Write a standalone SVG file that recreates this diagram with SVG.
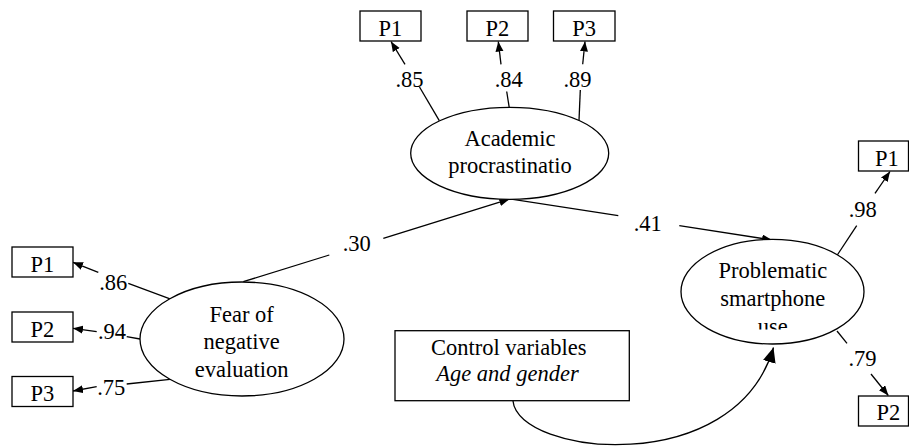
<svg xmlns="http://www.w3.org/2000/svg" width="909" height="448" viewBox="0 0 909 448" font-family="Liberation Serif, DejaVu Serif, serif">
<style>
.n{fill:#fff;stroke:#000;stroke-width:1.3}
.t{font-size:22.5px;fill:#000;text-anchor:middle}
.i{font-style:italic}
.c line,.c path{stroke:#000;stroke-width:1.3;fill:none}
</style>
<defs>
<marker id="a" markerUnits="userSpaceOnUse" markerWidth="11" markerHeight="9" refX="10" refY="4" orient="auto">
<path d="M0,0 L10,4 L0,8 z" fill="#000"/>
</marker>
<marker id="b" markerUnits="userSpaceOnUse" markerWidth="16" markerHeight="14" refX="15" refY="6.5" orient="auto">
<path d="M0,0 L15,6.5 L0,13 z" fill="#000"/>
</marker>
<clipPath id="cl"><rect x="680" y="230" width="190" height="99.5"/></clipPath>
</defs>
<rect width="909" height="448" fill="#fff"/>

<g class="c" id="connectors">
<line x1="243.3" y1="281.7" x2="329.3" y2="255"/>
<line x1="383.3" y1="238.3" x2="509.3" y2="199.2" marker-end="url(#a)"/>
<line x1="507" y1="198.5" x2="618.3" y2="215.7"/>
<line x1="679.3" y1="225.7" x2="772" y2="240" marker-end="url(#a)"/>
<line x1="439.3" y1="120.7" x2="419.5" y2="87"/>
<line x1="405" y1="64.3" x2="391" y2="41.5" marker-end="url(#a)"/>
<line x1="509.3" y1="108" x2="506.7" y2="91.5"/>
<line x1="501" y1="64.3" x2="498.3" y2="41.5" marker-end="url(#a)"/>
<line x1="579" y1="120.7" x2="580.3" y2="90"/>
<line x1="582.7" y1="64.3" x2="585" y2="41.5" marker-end="url(#a)"/>
<line x1="170" y1="298.8" x2="128.3" y2="283.3"/>
<line x1="98.3" y1="272.3" x2="73" y2="262.3" marker-end="url(#a)"/>
<line x1="140" y1="339" x2="126.7" y2="336.7"/>
<line x1="96.7" y1="331.7" x2="73" y2="328.3" marker-end="url(#a)"/>
<line x1="170" y1="379.3" x2="126.7" y2="384"/>
<line x1="96.7" y1="386.7" x2="73" y2="391" marker-end="url(#a)"/>
<line x1="837.3" y1="255" x2="856.7" y2="225.7"/>
<line x1="875" y1="193.3" x2="890" y2="171.5" marker-end="url(#a)"/>
<line x1="837" y1="331" x2="847" y2="343.3"/>
<line x1="871" y1="374" x2="888.3" y2="395.5" marker-end="url(#a)"/>
<path d="M513,401 C518,455 735,480 773.5,347.5" marker-end="url(#b)"/>
<text class="t" x="356.7" y="250.7">.30</text>
<text class="t" x="647.7" y="230.7">.41</text>
<text class="t" x="409.5" y="87.3">.85</text>
<text class="t" x="508.7" y="87.3">.84</text>
<text class="t" x="577.5" y="87.3">.89</text>
<text class="t" x="113.3" y="290">.86</text>
<text class="t" x="112" y="339">.94</text>
<text class="t" x="111.3" y="395">.75</text>
<text class="t" x="862.8" y="217.3">.98</text>
<text class="t" x="862.5" y="365.7">.79</text>
</g>

<g id="academic">
<ellipse class="n" cx="509.7" cy="153.3" rx="99" ry="46"/>
<text class="t" x="510" y="145.7">Academic</text>
<text class="t" x="510" y="173.3">procrastinatio</text>
</g>
<g id="fear">
<ellipse class="n" cx="242" cy="339" rx="102" ry="57"/>
<text class="t" x="241.7" y="321.7">Fear of</text>
<text class="t" x="241.7" y="349">negative</text>
<text class="t" x="241.7" y="376.5">evaluation</text>
</g>
<g id="problematic">
<ellipse class="n" cx="772.5" cy="291.7" rx="91.5" ry="52.3"/>
<text class="t" x="772.8" y="278.3">Problematic</text>
<text class="t" x="772.8" y="306">smartphone</text>
<text class="t" x="772.8" y="333.5" clip-path="url(#cl)">use</text>
</g>
<g id="control">
<rect class="n" x="395" y="330.7" width="234.3" height="70"/>
<text class="t" x="508.7" y="355">Control variables</text>
<text class="t i" x="507.5" y="380.7">Age and gender</text>
</g>
<g id="ap1"><rect class="n" x="360" y="11" width="61" height="30"/><text class="t" x="390.5" y="36">P1</text></g>
<g id="ap2"><rect class="n" x="467" y="11" width="61" height="30"/><text class="t" x="497.5" y="36">P2</text></g>
<g id="ap3"><rect class="n" x="553.5" y="11" width="61.5" height="30"/><text class="t" x="584.2" y="36">P3</text></g>
<g id="fp1"><rect class="n" x="12" y="247" width="61" height="30"/><text class="t" x="42.5" y="271.5">P1</text></g>
<g id="fp2"><rect class="n" x="12" y="312" width="61" height="30"/><text class="t" x="42.5" y="336.5">P2</text></g>
<g id="fp3"><rect class="n" x="12" y="376.5" width="61" height="30"/><text class="t" x="42.5" y="401">P3</text></g>
<g id="pp1"><rect class="n" x="858.5" y="141" width="50" height="30"/><text class="t" x="887" y="165.5">P1</text></g>
<g id="pp2"><rect class="n" x="858.5" y="396" width="50" height="30"/><text class="t" x="888.3" y="420.3">P2</text></g>
</svg>
